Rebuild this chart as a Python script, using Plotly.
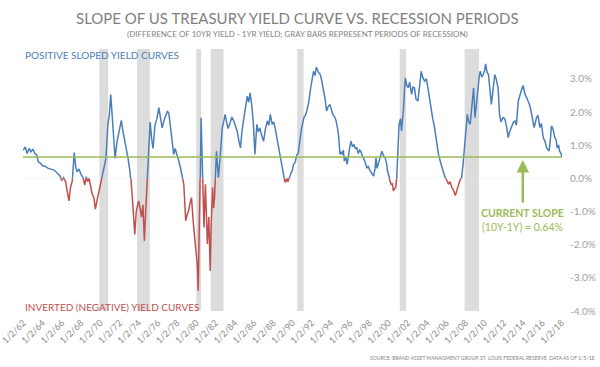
import plotly.graph_objects as go

# ---------------- data ----------------
YEARS = [
    1962.0, 1962.2, 1962.4, 1962.6, 1962.8, 1963.0, 1963.2, 1963.4, 1963.55, 1963.8,
    1964.0, 1964.3, 1964.6, 1964.9, 1965.2, 1965.5, 1965.8, 1966.0, 1966.2, 1966.4,
    1966.6, 1966.75, 1966.9, 1967.1, 1967.3, 1967.45, 1967.6, 1967.8, 1968.0, 1968.2,
    1968.4, 1968.55, 1968.7, 1968.85, 1969.0, 1969.15, 1969.35, 1969.5, 1969.65, 1969.8,
    1970.0, 1970.2, 1970.4, 1970.6, 1970.8, 1970.95, 1971.1, 1971.2, 1971.3, 1971.45,
    1971.55, 1971.75, 1971.9, 1972.05, 1972.2, 1972.35, 1972.6, 1972.75, 1972.9, 1973.1,
    1973.2, 1973.35, 1973.5, 1973.6, 1973.75, 1974.0, 1974.15, 1974.3, 1974.45, 1974.6,
    1974.75, 1974.85, 1975.0, 1975.1, 1975.2, 1975.35, 1975.5, 1975.7, 1975.9, 1976.1,
    1976.3, 1976.45, 1976.7, 1977.0, 1977.15, 1977.3, 1977.5, 1977.65, 1977.8, 1978.0,
    1978.2, 1978.35, 1978.5, 1978.7, 1978.9, 1979.05, 1979.2, 1979.35, 1979.5, 1979.7,
    1979.85, 1979.95, 1980.1, 1980.2, 1980.3, 1980.4, 1980.5, 1980.6, 1980.7, 1980.8,
    1980.95, 1981.05, 1981.15, 1981.3, 1981.45, 1981.55, 1981.7, 1981.8, 1981.9, 1982.0,
    1982.1, 1982.2, 1982.3, 1982.5, 1982.7, 1982.85, 1983.0, 1983.15, 1983.3, 1983.5,
    1983.7, 1983.9, 1984.1, 1984.25, 1984.45, 1984.6, 1984.75, 1984.9, 1985.1, 1985.3,
    1985.45, 1985.6, 1985.8, 1985.95, 1986.1, 1986.3, 1986.45, 1986.6, 1986.8, 1987.0,
    1987.2, 1987.4, 1987.55, 1987.7, 1987.9, 1988.05, 1988.2, 1988.4, 1988.6, 1988.75,
    1988.9, 1989.05, 1989.2, 1989.3, 1989.4, 1989.55, 1989.7, 1989.85, 1990.0, 1990.1,
    1990.3, 1990.45, 1990.6, 1990.8, 1990.95, 1991.2, 1991.35, 1991.5, 1991.7, 1991.9,
    1992.05, 1992.2, 1992.35, 1992.5, 1992.7, 1992.9, 1993.05, 1993.2, 1993.4, 1993.55,
    1993.7, 1993.9, 1994.05, 1994.2, 1994.4, 1994.55, 1994.7, 1994.8, 1994.95, 1995.1,
    1995.2, 1995.3, 1995.4, 1995.55, 1995.7, 1995.85, 1996.0, 1996.1, 1996.25, 1996.4,
    1996.55, 1996.7, 1996.85, 1997.0, 1997.1, 1997.25, 1997.4, 1997.55, 1997.75, 1997.9,
    1998.1, 1998.3, 1998.45, 1998.6, 1998.7, 1998.8, 1998.95, 1999.1, 1999.3, 1999.45,
    1999.65, 1999.8, 1999.9, 2000.05, 2000.15, 2000.3, 2000.4, 2000.5, 2000.65, 2000.75,
    2000.85, 2000.95, 2001.05, 2001.1, 2001.25, 2001.35, 2001.45, 2001.55, 2001.65, 2001.75,
    2001.9, 2002.05, 2002.2, 2002.4, 2002.55, 2002.7, 2002.85, 2003.05, 2003.2, 2003.4,
    2003.55, 2003.75, 2003.95, 2004.1, 2004.3, 2004.5, 2004.6, 2004.75, 2004.9, 2005.05,
    2005.2, 2005.4, 2005.55, 2005.7, 2005.9, 2006.05, 2006.25, 2006.4, 2006.6, 2006.75,
    2006.95, 2007.1, 2007.3, 2007.45, 2007.6, 2007.75, 2007.85, 2008.0, 2008.1, 2008.2,
    2008.35, 2008.5, 2008.65, 2008.85, 2009.0, 2009.15, 2009.3, 2009.45, 2009.55, 2009.7,
    2009.85, 2010.0, 2010.1, 2010.25, 2010.4, 2010.55, 2010.7, 2010.85, 2011.05, 2011.2,
    2011.4, 2011.55, 2011.7, 2011.9, 2012.1, 2012.3, 2012.45, 2012.6, 2012.8, 2013.0,
    2013.15, 2013.3, 2013.5, 2013.65, 2013.85, 2014.0, 2014.2, 2014.35, 2014.5, 2014.7,
    2014.9, 2015.05, 2015.15, 2015.4, 2015.55, 2015.75, 2015.9, 2016.1, 2016.3, 2016.45,
    2016.6, 2016.7, 2016.85, 2016.95, 2017.1, 2017.3, 2017.45, 2017.55, 2017.7, 2017.8,
    2017.95, 2018.02,
]

SPREAD = [
    0.85, 0.95, 0.75, 0.90, 0.80, 0.88, 0.75, 0.70, 0.50, 0.45,
    0.38, 0.36, 0.30, 0.28, 0.25, 0.17, 0.08, -0.05, 0.02, -0.10,
    -0.45, -0.68, -0.30, -0.07, 0.78, 0.35, 0.20, 0.28, 0.12, 0.04,
    -0.20, 0.05, -0.10, 0.00, -0.25, -0.45, -0.60, -0.93, -0.70, -0.48,
    -0.20, 0.11, 0.30, 0.60, 1.63, 1.90, 2.53, 2.10, 1.79, 1.00,
    0.60, 1.10, 1.30, 1.55, 1.75, 1.45, 1.10, 0.90, 0.60, 0.20,
    0.00, -0.60, -1.17, -1.69, -1.00, -0.68, -0.90, -1.17, -0.80, -1.89,
    -0.90, -0.40, 0.40, 0.90, 1.70, 1.20, 0.90, 1.60, 1.80, 2.13,
    1.80, 1.52, 1.80, 2.03, 1.95, 1.63, 1.20, 0.72, 0.90, 0.72,
    0.50, 0.32, 0.10, -0.18, -1.28, -1.10, -0.98, -0.75, -0.58, -1.38,
    -1.80, -2.19, -2.60, -3.39, -1.50, -0.40, 1.83, 0.72, -0.20, -1.48,
    -0.18, -1.20, -1.98, -1.17, -2.79, -1.40, -0.28, -0.90, -0.58, 0.20,
    0.82, 0.40, 0.02, 0.72, 1.52, 1.70, 1.93, 1.70, 1.50, 1.65,
    1.85, 1.73, 1.55, 1.43, 1.10, 0.92, 1.42, 1.70, 2.03, 2.48,
    2.30, 2.58, 2.13, 1.60, 0.72, 1.63, 1.40, 1.52, 1.30, 1.12,
    1.50, 1.73, 1.60, 1.93, 1.63, 1.70, 1.52, 1.20, 0.92, 0.60,
    0.32, 0.10, -0.08, -0.12, 0.00, -0.10, 0.05, 0.15, 0.25, 0.40,
    0.50, 0.70, 0.75, 1.22, 1.50, 1.83, 1.90, 2.03, 2.30, 2.73,
    3.00, 3.23, 3.10, 3.35, 3.20, 3.13, 2.95, 2.73, 2.40, 2.03,
    2.15, 2.23, 2.05, 1.93, 1.85, 1.73, 1.50, 1.30, 0.72, 0.80,
    0.72, 0.85, 0.52, 0.65, 0.42, 0.80, 1.00, 1.12, 0.95, 1.02,
    0.90, 0.92, 0.75, 0.85, 0.82, 0.70, 0.62, 0.50, 0.32, 0.35,
    0.22, 0.15, 0.07, 0.30, 0.62, 0.30, 0.42, 0.60, 0.82, 0.70,
    0.62, 0.45, 0.22, 0.05, -0.08, -0.20, -0.15, -0.38, -0.30, -0.28,
    0.00, 0.62, 1.20, 1.63, 1.80, 1.43, 1.75, 2.03, 2.60, 3.03,
    2.80, 2.73, 2.90, 2.53, 2.75, 2.73, 2.40, 2.33, 2.70, 3.23,
    3.05, 2.93, 3.00, 2.70, 2.33, 2.03, 1.80, 1.60, 1.32, 1.00,
    0.72, 0.50, 0.32, 0.20, 0.02, -0.05, -0.18, -0.10, -0.28, -0.35,
    -0.52, -0.35, -0.18, -0.05, 0.02, 0.40, 0.72, 1.32, 1.60, 1.93,
    1.70, 1.63, 2.10, 2.73, 1.83, 2.30, 2.73, 3.10, 3.23, 3.05,
    3.13, 3.25, 3.45, 3.20, 3.13, 2.70, 2.23, 2.60, 3.13, 3.00,
    2.73, 1.93, 1.70, 1.83, 1.80, 1.53, 1.23, 1.40, 1.53, 1.70,
    1.73, 1.60, 2.33, 2.50, 2.68, 2.80, 2.53, 2.45, 2.33, 2.20,
    1.93, 1.60, 1.53, 1.83, 1.90, 1.53, 1.65, 1.23, 1.10, 0.92,
    0.85, 0.82, 1.20, 1.58, 1.50, 1.23, 1.15, 0.92, 1.00, 0.82,
    0.75, 0.64,
]

CURRENT_SLOPE = 0.64

RECESSION_START = [1969.92, 1973.83, 1980.0, 1981.5, 1990.5, 2001.17, 2007.92]
RECESSION_END = [1970.83, 1975.17, 1980.5, 1982.83, 1991.17, 2001.83, 2009.42]

X_TICK_YEARS = list(range(1962, 2019, 2))
X_TICK_LABELS = ["1/2/%02d" % (y % 100) for y in X_TICK_YEARS]

Y_TICKS_NEG = [-4, -3, -2, -1]
Y_TICKS_POS = [0, 1, 2, 3]
Y_TICK_LABELS_NEG = ["-4.0%", "-3.0%", "-2.0%", "-1.0%"]
Y_TICK_LABELS_POS = ["0.0%", "1.0%", "2.0%", "3.0%"]

# ---------------- styling ----------------
BLUE = "#4A7EBB"
RED = "#C0504D"
GREEN = "#9BBB59"
BAR = "#DCDCDC"
GRAY_TXT = "#7F7F7F"
FONT = "Lato"

Y_MIN, Y_MAX = -4.0, 3.9
split = (0 - Y_MIN) / (Y_MAX - Y_MIN)

fig = go.Figure()
# positive part (clipped to upper subplot)
fig.add_trace(go.Scatter(x=YEARS, y=SPREAD, mode="lines", xaxis="x", yaxis="y2",
                         line=dict(color=BLUE, width=1.5), hoverinfo="skip", showlegend=False))
# negative part (clipped to lower subplot)
fig.add_trace(go.Scatter(x=YEARS, y=SPREAD, mode="lines", xaxis="x", yaxis="y",
                         line=dict(color=RED, width=1.5), hoverinfo="skip", showlegend=False))

shapes = []
for s, e in zip(RECESSION_START, RECESSION_END):
    shapes.append(dict(type="rect", xref="x", yref="paper", x0=s, x1=e, y0=0, y1=1,
                       fillcolor=BAR, line=dict(width=0), layer="below"))
shapes.append(dict(type="line", xref="paper", yref="y2", x0=0, x1=1, y0=0, y1=0,
                   line=dict(color="#E6E6E6", width=1), layer="below"))
shapes.append(dict(type="line", xref="paper", yref="y2", x0=0, x1=1,
                   y0=CURRENT_SLOPE, y1=CURRENT_SLOPE,
                   line=dict(color=GREEN, width=1.5), layer="above"))

annotations = [
    dict(text="SLOPE OF US TREASURY YIELD CURVE VS. RECESSION PERIODS",
         xref="paper", yref="paper", x=0.51, y=1.0, yshift=31, showarrow=False,
         font=dict(family=FONT, size=15, color=GRAY_TXT), xanchor="center", yanchor="middle"),
    dict(text="(DIFFERENCE OF 10YR YIELD - 1YR YIELD; GRAY BARS REPRESENT PERIODS OF RECESSION)",
         xref="paper", yref="paper", x=0.51, y=1.0, yshift=15, showarrow=False,
         font=dict(family=FONT, size=8, color=GRAY_TXT), xanchor="center", yanchor="middle"),
    dict(text="POSITIVE SLOPED YIELD CURVES", xref="paper", yref="paper", x=0, y=1, yshift=-6,
         showarrow=False, xanchor="left", yanchor="middle",
         font=dict(family=FONT, size=10, color=BLUE)),
    dict(text="INVERTED (NEGATIVE) YIELD CURVES", xref="paper", yref="paper", x=0, y=0, yshift=4,
         showarrow=False, xanchor="left", yanchor="middle",
         font=dict(family=FONT, size=10, color=RED)),
    dict(text="<b>CURRENT SLOPE</b>", xref="x", yref="y", x=2013.97, y=-1.05,
         showarrow=False, xanchor="center", yanchor="middle",
         font=dict(family=FONT, size=10.5, color=GREEN)),
    dict(text="(10Y-1Y) = %.2f%%" % CURRENT_SLOPE, xref="x", yref="y", x=2013.97, y=-1.48,
         showarrow=False, xanchor="center", yanchor="middle",
         font=dict(family=FONT, size=10.5, color=GREEN)),
    dict(text="", xref="x", yref="y2", x=2013.97, y=0.55, ax=0, ay=44, axref="pixel", ayref="pixel",
         showarrow=True, arrowhead=2, arrowsize=1, arrowwidth=2.5, arrowcolor=GREEN),
    dict(text="SOURCE: BRAND ASSET MANAGMENT GROUP, ST. LOUIS FEDERAL RESERVE, DATA AS OF 1/5/18",
         xref="paper", yref="paper", x=1.065, y=0, yshift=-47, showarrow=False,
         xanchor="right", yanchor="middle", font=dict(family=FONT, size=5, color=GRAY_TXT)),
]

fig.update_layout(
    width=600, height=367,
    margin=dict(l=23, r=38, t=49, b=56, autoexpand=False),
    paper_bgcolor="white", plot_bgcolor="rgba(0,0,0,0)",
    font=dict(family=FONT, color=GRAY_TXT),
    showlegend=False,
    shapes=shapes,
    annotations=annotations,
    xaxis=dict(range=[1961.97, 2018.05], anchor="y", tickvals=X_TICK_YEARS, ticktext=X_TICK_LABELS,
               tickangle=-45, showgrid=False, zeroline=False, showline=False, automargin=False,
               ticks="", ticklabelstandoff=4, ticklabeloverflow="allow",
               tickfont=dict(family=FONT, size=9, color="#8C8C8C")),
    yaxis=dict(domain=[0, split], range=[Y_MIN, 0], anchor="x", side="right",
               tickvals=Y_TICKS_NEG, ticktext=Y_TICK_LABELS_NEG, showgrid=False,
               zeroline=False, showline=False, ticks="", ticklabelstandoff=7, automargin=False,
               tickfont=dict(family=FONT, size=10, color="#A0A0A0")),
    yaxis2=dict(domain=[split, 1], range=[0, Y_MAX], anchor="x", side="right",
                tickvals=Y_TICKS_POS, ticktext=Y_TICK_LABELS_POS, showgrid=False,
                zeroline=False, showline=False, ticks="", ticklabelstandoff=7, automargin=False,
                tickfont=dict(family=FONT, size=10, color="#A0A0A0")),
)

fig.write_html(
    "out.html",
    config={"displayModeBar": False},
    post_script="document.body.style.margin='0';document.body.style.overflow='hidden';",
)
